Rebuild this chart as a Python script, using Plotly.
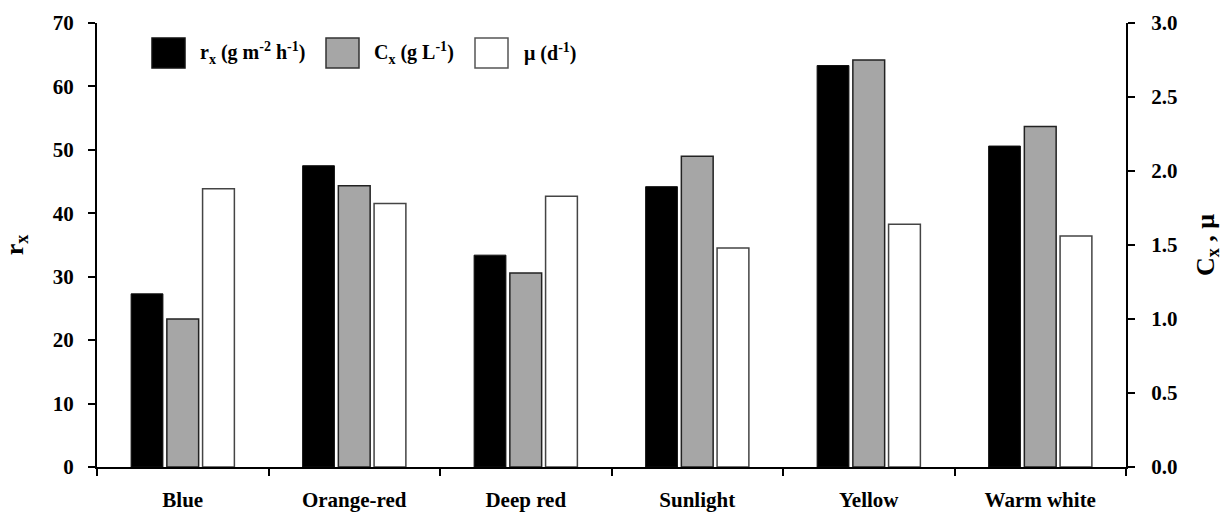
import plotly.graph_objects as go

# Light source treatments
categories = ["Blue", "Orange-red", "Deep red", "Sunlight", "Yellow", "Warm white"]

# Biomass productivity r_x (g m^-2 h^-1), left axis
rx = [27.3, 47.5, 33.4, 44.2, 63.3, 50.6]
# Biomass concentration C_x (g L^-1), right axis
cx = [1.00, 1.90, 1.31, 2.10, 2.75, 2.30]
# Specific growth rate mu (d^-1), right axis
mu = [1.88, 1.78, 1.83, 1.48, 1.64, 1.56]

legend_labels = [
    "r<sub>x</sub> (g m<sup>-2</sup> h<sup>-1</sup>)",
    "C<sub>x</sub> (g L<sup>-1</sup>)",
    "μ (d<sup>-1</sup>)",
]

left_ticks = [0, 10, 20, 30, 40, 50, 60, 70]
right_ticks = [0.0, 0.5, 1.0, 1.5, 2.0, 2.5, 3.0]

FONT = "Liberation Serif"
BLACK = "#000000"
GREY = "#a6a6a6"
tick_font = dict(family=FONT, size=21, color="black", weight="bold")
title_font = dict(family=FONT, size=26, color="black", weight="bold")

fig = go.Figure()
fig.add_trace(go.Bar(x=categories, y=rx, name=legend_labels[0], yaxis="y",
                     offsetgroup="rx",
                     marker=dict(color=BLACK, line=dict(color="#111111", width=1))))
fig.add_trace(go.Bar(x=categories, y=cx, name=legend_labels[1], yaxis="y2",
                     offsetgroup="cx",
                     marker=dict(color=GREY, line=dict(color="#222222", width=1.5))))
fig.add_trace(go.Bar(x=categories, y=mu, name=legend_labels[2], yaxis="y2",
                     offsetgroup="mu",
                     marker=dict(color="#ffffff", line=dict(color="#444444", width=1.5))))

axis_common = dict(showgrid=False, zeroline=False, showline=True, linecolor="black",
                   linewidth=2, ticks="outside", ticklen=7, tickwidth=2, tickcolor="black",
                   tickfont=tick_font, automargin=False)

fig.update_layout(
    width=1223, height=513,
    margin=dict(l=97, r=97, t=23, b=46),
    paper_bgcolor="white", plot_bgcolor="white",
    barmode="group", bargap=0.375, bargroupgap=0.11,
    showlegend=False,
    font=dict(family=FONT, color="black"),
    xaxis=dict(axis_common, tickson="boundaries", ticklabelstandoff=13),
    yaxis=dict(axis_common, range=[0, 70], tickvals=left_ticks,
               ticklabelstandoff=10,
               title=dict(text="r<sub>x</sub>", standoff=22, font=title_font)),
    yaxis2=dict(axis_common, range=[0, 3], tickvals=right_ticks, tickformat=".1f",
                overlaying="y", side="right", ticklabelstandoff=12,
                title=dict(text="C<sub>x</sub> , μ", standoff=22, font=title_font)),
)

# Legend drawn as swatches with labels along the top of the plot area
swatches = [
    (152, 185, 198, BLACK, "#111111", legend_labels[0]),
    (326, 359, 372, GREY, "#333333", legend_labels[1]),
    (475, 508, 522, "#ffffff", "#555555", legend_labels[2]),
]
W, H = 1223, 513
for x0, x1, tx, fill, edge, label in swatches:
    fig.add_shape(type="rect", xref="paper", yref="paper",
                  x0=(x0 - 97) / (W - 194), x1=(x1 - 97) / (W - 194),
                  y0=(467 - 68) / 444, y1=(467 - 38) / 444,
                  fillcolor=fill, line=dict(color=edge, width=1.5))
    fig.add_annotation(xref="paper", yref="paper",
                       x=(tx - 97) / (W - 194), y=(467 - 53) / 444,
                       xanchor="left", yanchor="middle", showarrow=False,
                       text=label,
                       font=dict(family=FONT, size=20, color="black", weight="bold"))

fig.write_html("out.html")
